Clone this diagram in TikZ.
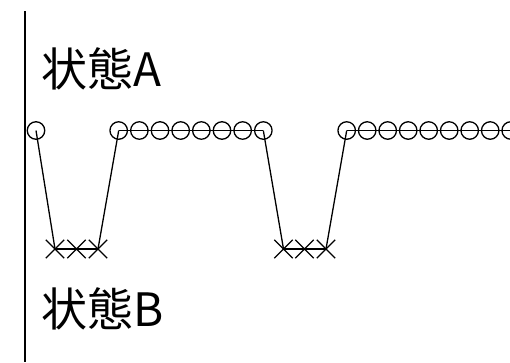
\documentclass[tikz,border=0pt]{standalone}
\usepackage{fontspec}
\setmainfont{Noto Sans CJK JP}
\usetikzlibrary{shapes.misc}
\begin{document}
\begin{tikzpicture}[x=1pt,y=-1pt,
  ring/.style={circle,draw,line width=1.3pt,minimum size=17.5pt,inner sep=0pt},
  xmark/.style={cross out,draw,line width=1.3pt,minimum size=17pt,inner sep=0pt},
  link/.style={line width=1.3pt},
  lbl/.style={anchor=base west,inner sep=0pt,font=\fontsize{46}{50}\selectfont}]
\useasboundingbox (0,0) rectangle (510,362);
\clip (0,0) rectangle (510,362);
% axis line
\coordinate (top) at (25,11);
\coordinate (bot) at (25,362);
\draw[line width=2pt] (top) -- (bot);
% labels
\node[lbl] (la) at (41,86) {状態A};
\node[lbl] (lb) at (41,326) {状態B};
% group 1
\node[ring] (c0) at (36,130.5) {};
% crosses 1
\foreach \i/\x in {1/55,2/76.5,3/98}{\node[xmark] (xa\i) at (\x,249) {};}
\draw[link] (xa1.center) -- (xa3.center);
% group 2
\foreach \i in {1,...,8}{\node[ring] (cb\i) at ({118.7+(\i-1)*20.66},130.5) {};}
\draw[link] (cb1.center) -- (cb8.center);
% crosses 2
\foreach \i/\x in {1/283.5,2/304.5,3/326}{\node[xmark] (xb\i) at (\x,249) {};}
\draw[link] (xb1.center) -- (xb3.center);
% group 3
\foreach \i in {1,...,9}{\node[ring] (cc\i) at ({346.7+(\i-1)*20.5},130.5) {};}
\coordinate (cend) at (515,130.5);
\draw[link] (cc1.center) -- (cend);
% transitions
\draw[link] (c0.center) -- (xa1.center);
\draw[link] (xa3.center) -- (cb1.center);
\draw[link] (cb8.center) -- (xb1.center);
\draw[link] (xb3.center) -- (cc1.center);
\end{tikzpicture}
\end{document}
